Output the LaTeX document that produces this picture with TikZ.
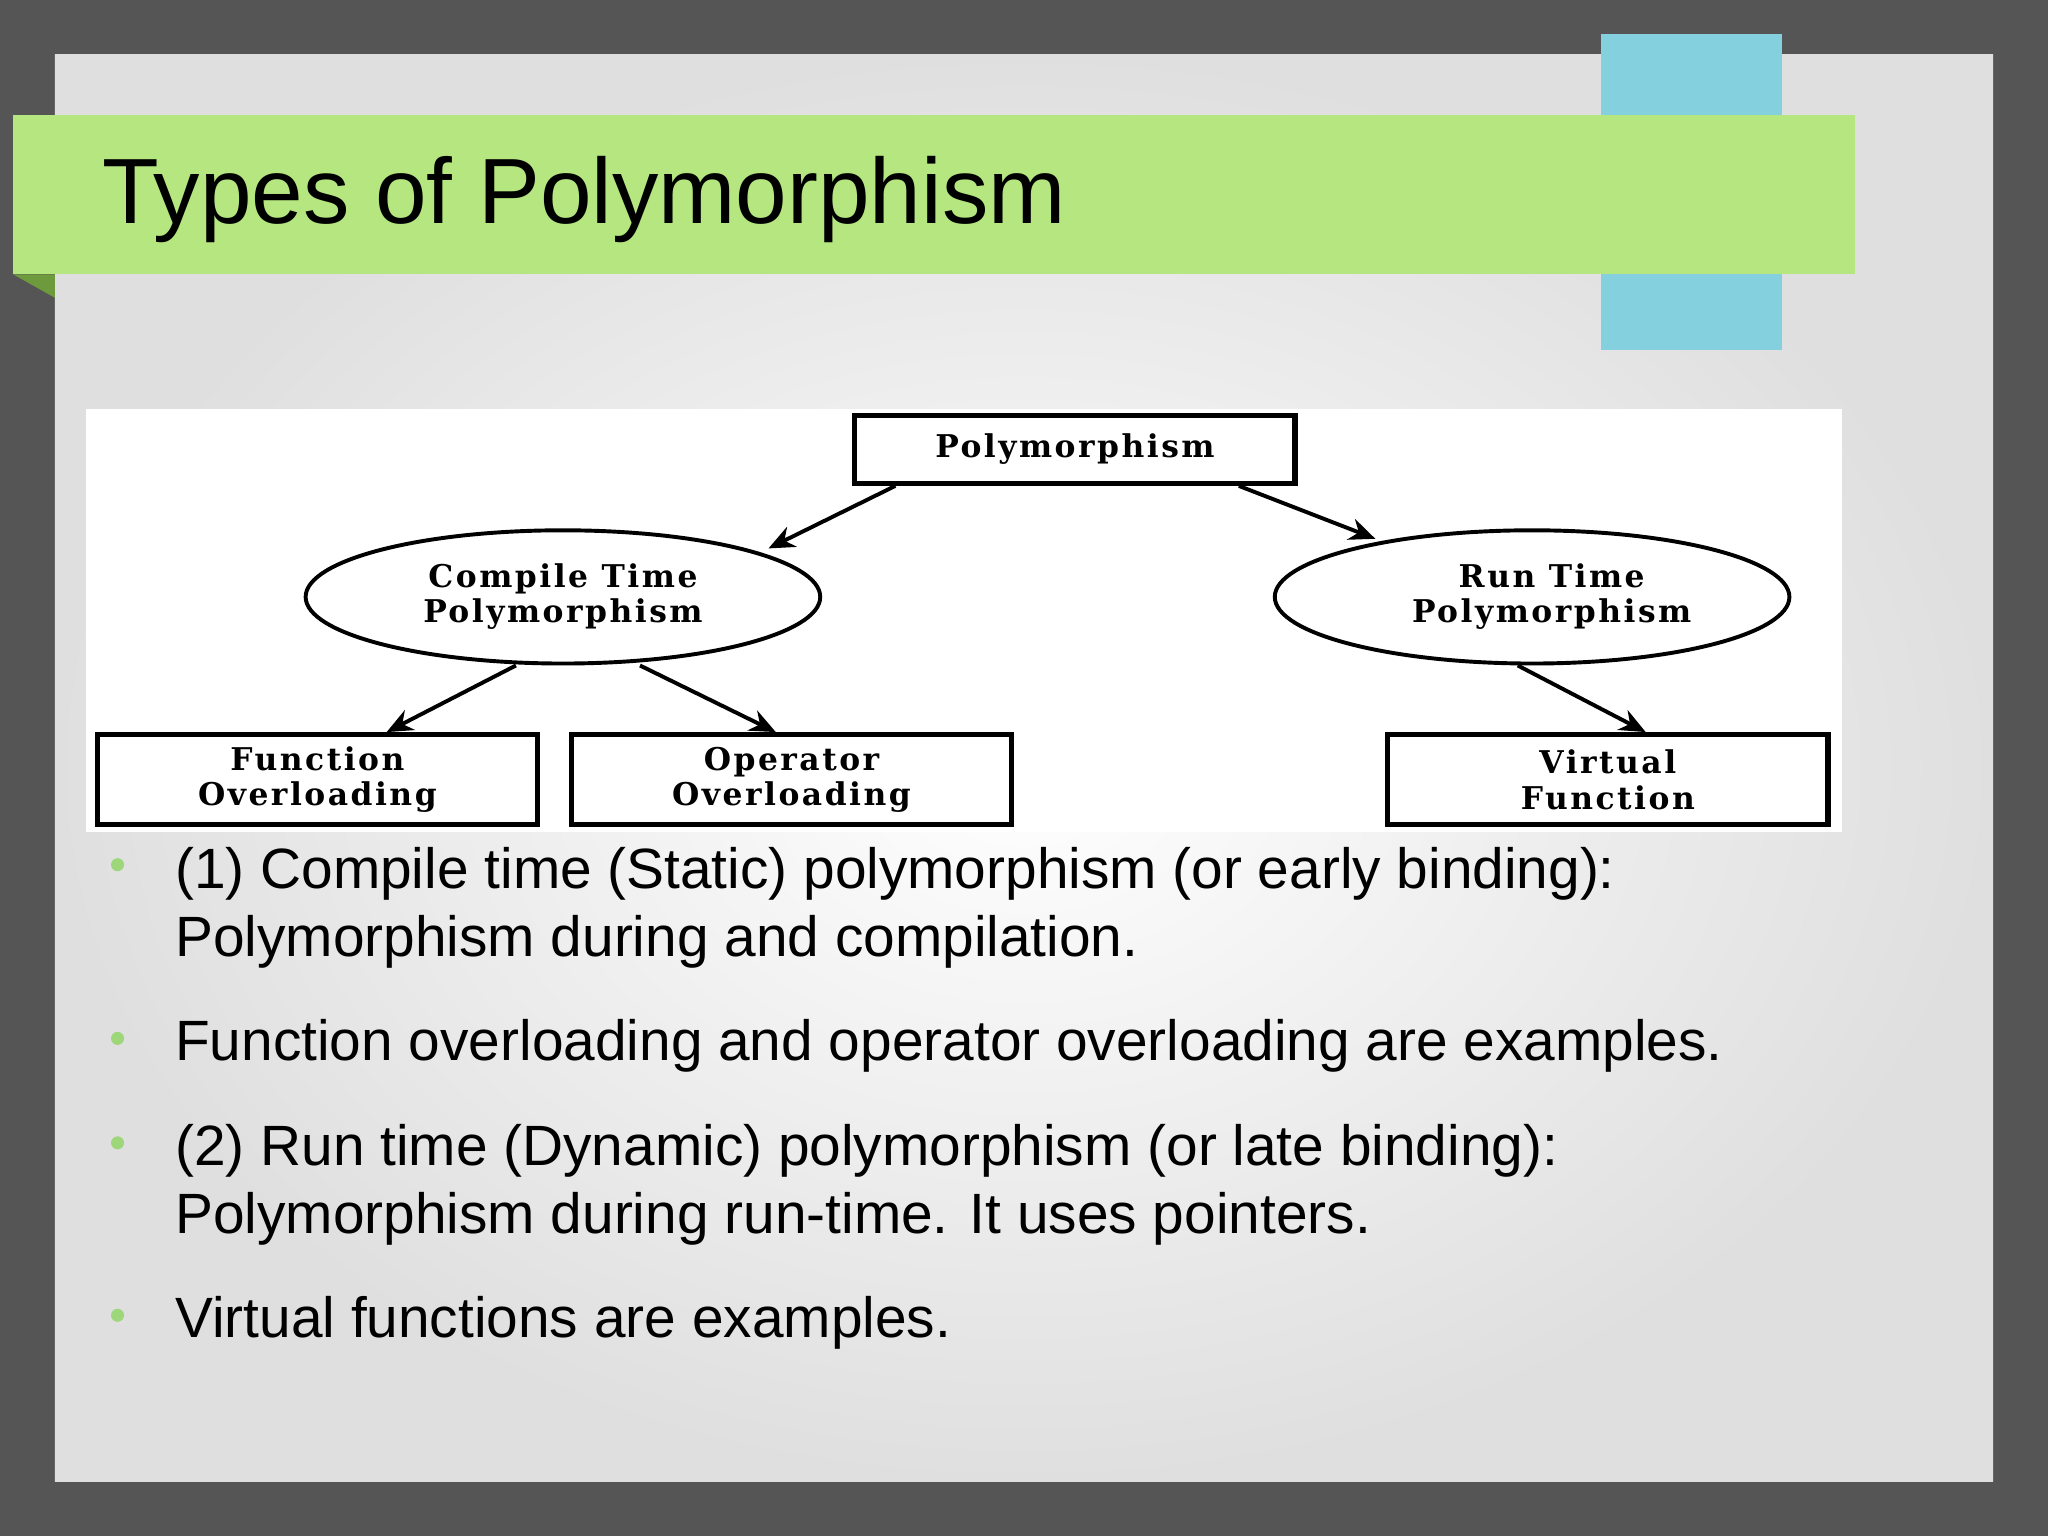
\documentclass[tikz,border=0pt]{standalone}
\usepackage{fontspec}
\setmainfont{Liberation Sans}
\newfontfamily\diafont[LetterSpace=8]{DejaVu Serif}
\usetikzlibrary{shapes.geometric,arrows.meta}
\definecolor{bgdark}{HTML}{555555}
\definecolor{bannergreen}{HTML}{B5E67F}
\definecolor{darkgreen}{HTML}{6E9A3E}
\definecolor{tabblue}{HTML}{84D0DF}
\definecolor{bulletgreen}{HTML}{9ED67A}
\tikzset{
 dbox/.style={draw=black,line width=4pt,minimum width=337pt,minimum height=52pt,inner sep=0pt,align=center,font=\diafont\bfseries\fontsize{24}{27}\selectfont},
 dell/.style={draw=black,line width=3pt,ellipse,minimum width=394pt,minimum height=102pt,inner sep=0pt,align=center,font=\diafont\bfseries\fontsize{24}{27}\selectfont},
 darr/.style={line width=3pt,-{Stealth[length=20pt,width=17pt]}},
 btext/.style={anchor=west,align=left,font=\fontsize{43.5}{52}\selectfont,inner sep=0pt},
 bdot/.style={circle,fill=bulletgreen,inner sep=0pt,minimum size=10pt}
}
\begin{document}
\begin{tikzpicture}[x=1pt,y=-1pt]
\useasboundingbox (0,0) rectangle (1568,1176);
\fill[bgdark] (0,0) rectangle (1568,1176);
\shade[inner color=white,outer color=gray!25] (42,42) rectangle (1526,1134);
\fill[tabblue] (1226,26) rectangle (1364,268);
\fill[darkgreen] (10,210) -- (42,228) -- (42,210) -- cycle;
\fill[bannergreen] (10,88) rectangle (1420,210);
\node[anchor=west,inner sep=0pt,font=\fontsize{71}{80}\selectfont] (title) at (78,153) {Types of Polymorphism};
\fill[white] (66,313) rectangle (1410,637);
\node[dbox] (poly) at (823,344) {Polymorphism};
\node[dell] (ct) at (431,457) {Compile Time\\Polymorphism};
\node[dell] (rt) at (1173,457) {\hspace*{30pt}Run Time\\\hspace*{30pt}Polymorphism};
\node[dbox,minimum height=69pt] (fo) at (243,597) {Function\\Overloading};
\node[dbox,minimum height=69pt] (oo) at (606,597) {Operator\\Overloading};
\node[dbox,minimum height=69pt] (vf) at (1231,597) {Virtual\\Function};
\draw[darr] ([xshift=33pt]poly.south west) -- ([xshift=17pt]ct.north east);
\draw[darr] ([xshift=-45pt]poly.south east) -- ([xshift=-120pt,yshift=-8pt]rt.north);
\draw[darr] ([xshift=-36pt]ct.south) -- ([xshift=53pt]fo.north);
\draw[darr] ([xshift=59pt]ct.south) -- ([xshift=-12pt]oo.north);
\draw[darr] ([xshift=-11pt]rt.south) -- ([xshift=29pt]vf.north);
\node[bdot] (d1) at (90,662) {};
\node[btext] (t1) at (134,695) {(1) Compile time (Static) polymorphism (or early binding):\\Polymorphism during and compilation.};
\node[bdot] (d2) at (90,795) {};
\node[btext] (t2) at (134,801) {Function overloading and operator overloading are examples.};
\node[bdot] (d3) at (90,875) {};
\node[btext] (t3) at (134,907) {(2) Run time (Dynamic) polymorphism (or late binding):\\Polymorphism during run-time. It uses pointers.};
\node[bdot] (d4) at (90,1007) {};
\node[btext] (t4) at (134,1013) {Virtual functions are examples.};
\end{tikzpicture}
\end{document}
